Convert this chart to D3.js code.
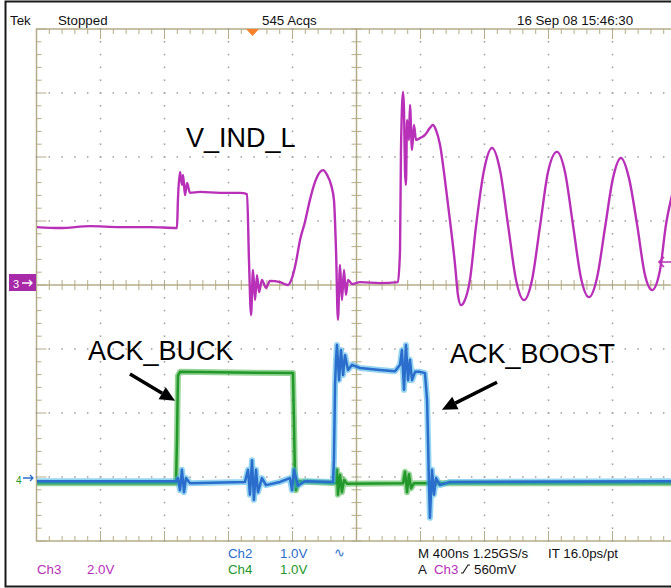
<!DOCTYPE html>
<html>
<head>
<meta charset="utf-8">
<script src="https://cdn.jsdelivr.net/npm/d3@7"></script>
<style>
  body { margin: 0; background: #fff; }
  svg { display: block; font-family: "Liberation Sans", Arial, sans-serif; }
</style>
</head>
<body>
<svg width="671" height="588"></svg>
<script>
// time in ns from left edge (400 ns/div), values in volts
var ch3 = [[3,1.81],[147,1.78],[334,1.84],[522,1.81],[709,1.81],[878,1.78],[884,2.66],[897,3.53],[909,3.13],[916,3.44],
  [928,2.81],[941,3.19],[959,2.88],[1022,2.91],[1147,2.88],[1272,2.88],[1316,2.84],[1328,0.78],[1341,-0.94],[1353,0.47],
  [1366,-0.47],[1378,0.31],[1391,-0.22],[1409,0.16],[1434,-0.09],[1459,0.13],[1522,0.09],[1572,0],[1597,0.22],[1622,0.72],
  [1647,1.41],[1678,1.97],[1709,2.66],[1741,3.22],[1772,3.53],[1791,3.59],[1816,3.44],[1841,3.13],[1859,2.66],[1872,1.09],
  [1884,-1.09],[1897,0.63],[1909,-0.47],[1922,0.47],[1934,-0.31],[1947,0.16],[1972,0.03],[2022,0.09],[2147,0.06],[2259,0.09],
  [2272,1.09],[2278,4.22],[2291,6.03],[2297,5.47],[2303,3.59],[2309,3.13],[2316,5.16],[2328,4.53],[2334,5.63],[2347,4.22],
  [2359,5.0],[2372,4.53],[2397,4.59],[2428,4.69],[2459,4.91],[2478,5.0],[2497,4.84],[2522,4.38],[2553,3.28],[2584,2.03],
  [2616,0.63],[2634,-0.31],[2653,-0.63],[2672,-0.53],[2709,0.16],[2747,1.84],[2797,3.59],[2847,4.28],[2897,3.59],[2947,1.88],
  [2997,0.16],[3047,-0.47],[3097,0.16],[3147,1.84],[3197,3.53],[3253,4.16],[3303,3.53],[3353,1.88],[3403,0.22],[3453,-0.38],
  [3503,0.22],[3553,1.78],[3603,3.34],[3653,3.97],[3703,3.34],[3753,1.91],[3803,0.31],[3847,-0.16],[3897,0.47],[3934,1.88],
  [3972,2.81]];

var ch4 = [[3,-0.05],[872,-0.05],[878,0.63],[884,1.63],[897,1.69],[1603,1.67],[1609,0.94],[1616,-0.03],[1622,-0.16],[1634,-0.02],
  [1872,-0.05],[1878,0.16],[1884,-0.23],[1897,0.08],[1909,-0.19],[1922,0],[1941,-0.06],
  [2291,-0.05],[2303,0.13],[2316,-0.19],[2328,0.09],[2341,-0.13],[2359,-0.05],[3966,-0.05]];

var ch2 = [[3,-0.02],[872,-0.02],[884,0.03],[897,-0.16],[909,0.16],[922,-0.19],[934,0.03],[959,-0.05],[1303,-0.03],[1322,0.16],
  [1334,-0.23],[1347,0.31],[1359,-0.31],[1372,0.16],[1384,-0.19],[1409,0.03],[1434,-0.08],[1522,-0.03],[1584,0.03],[1597,-0.16],
  [1609,0.16],[1634,-0.09],[1678,-0.02],[1853,-0.03],[1859,0.31],[1866,1.48],[1872,1.88],[1878,2.11],[1891,1.56],[1903,2.03],
  [1916,1.64],[1928,1.95],[1947,1.72],[1972,1.80],[2022,1.75],[2147,1.72],[2241,1.70],[2272,1.80],[2284,2.03],[2297,1.41],
  [2309,2.11],[2322,1.56],[2334,1.88],[2347,1.56],[2366,1.69],[2397,1.69],[2428,1.67],[2441,1.25],[2447,0.63],[2453,-0.08],
  [2459,-0.59],[2472,0.16],[2484,-0.23],[2497,0.03],[2522,-0.08],[2584,-0.03],[3966,-0.02]];

var topTexts = ['Tek', 'Stopped', '545 Acqs', '16 Sep 08 15:46:30'];
var notes = ['V_IND_L', 'ACK_BUCK', 'ACK_BOOST'];
var trigLevel = 0.72;

var svg = d3.select('svg'),
    w = +svg.attr('width'),
    h = +svg.attr('height');

var x = d3.scaleLinear().domain([0, 4000]).range([36.5, 676.5]),
    dv = d3.scaleLinear().domain([-4, 4]).range([541, 29]),
    y3 = d3.scaleLinear().domain([-8, 8]).range([541, 29]),     // 2 V/div
    y24 = d3.scaleLinear().domain([0, 1]).range([480, 416]);   // 1 V/div

var gc = '#b4ac88', mag = '#b82fb8', blu = '#2a6dcc', grn = '#23982a';

svg.append('rect').attr('width', w).attr('height', h).attr('fill', '#fff');
svg.append('rect')
  .attr('x', 5.5).attr('y', 1.5).attr('width', 720).attr('height', 585)
  .attr('fill', 'none').attr('stroke', '#1a1a1a').attr('stroke-width', 2);

// graticule
var g = svg.append('g').attr('stroke', gc).attr('fill', 'none');
var minX = d3.range(0, 4001, 80), minY = d3.range(-4, 4.001, 0.2);

g.append('rect').attr('x', x(0)).attr('y', dv(4))
  .attr('width', x(4000) - x(0)).attr('height', dv(-4) - dv(4)).attr('stroke-width', 1.5);
g.append('line').attr('x1', x(2000)).attr('x2', x(2000)).attr('y1', dv(4)).attr('y2', dv(-4)).attr('stroke-width', 1.5);
g.append('line').attr('x1', x(0)).attr('x2', x(4000)).attr('y1', dv(0)).attr('y2', dv(0)).attr('stroke-width', 1.5);

function isMaj(v, step) { return Math.abs(v / step - Math.round(v / step)) < 1e-6; }

// border ticks
minX.forEach(function(t) {
  var len = isMaj(t, 400) ? 10 : 5;
  g.append('line').attr('x1', x(t)).attr('x2', x(t)).attr('y1', dv(4)).attr('y2', dv(4) + len);
  g.append('line').attr('x1', x(t)).attr('x2', x(t)).attr('y1', dv(-4)).attr('y2', dv(-4) - len);
  g.append('line').attr('x1', x(t)).attr('x2', x(t)).attr('y1', dv(0) - 5).attr('y2', dv(0) + 5);
});
minY.forEach(function(d) {
  var len = isMaj(d, 1) ? 10 : 5;
  g.append('line').attr('x1', x(0)).attr('x2', x(0) + len).attr('y1', dv(d)).attr('y2', dv(d));
  g.append('line').attr('x1', x(2000) - 5).attr('x2', x(2000) + 5).attr('y1', dv(d)).attr('y2', dv(d));
});

// dotted major lines
var dots = svg.append('g').attr('fill', '#9c9c9c');
d3.range(400, 4000, 400).filter(function(t) { return t !== 2000; }).forEach(function(t) {
  minY.forEach(function(d) {
    dots.append('rect').attr('x', x(t) - 0.75).attr('y', dv(d) - 0.75).attr('width', 1.5).attr('height', 1.5);
  });
});
[-3, -2, -1, 1, 2, 3].forEach(function(d) {
  minX.forEach(function(t) {
    dots.append('rect').attr('x', x(t) - 0.75).attr('y', dv(d) - 0.75).attr('width', 1.5).attr('height', 1.5);
  });
});

// traces
svg.append('clipPath').attr('id', 'scr').append('rect')
  .attr('x', x(0)).attr('y', dv(4)).attr('width', x(4000) - x(0)).attr('height', dv(-4) - dv(4));
var tr = svg.append('g').attr('clip-path', 'url(#scr)').attr('fill', 'none')
  .attr('stroke-linejoin', 'round');

function trace(data, ys, curve, band, bandW, core, coreW) {
  var line = d3.line().x(function(d) { return x(d[0]); }).y(function(d) { return ys(d[1]); })
    .curve(curve);
  if (band) tr.append('path').attr('d', line(data)).attr('stroke', band).attr('stroke-width', bandW).attr('opacity', 0.55);
  tr.append('path').attr('d', line(data)).attr('stroke', core).attr('stroke-width', coreW);
}
trace(ch4, y24, d3.curveLinear, '#3fae3f', 6, grn, 2.5);
trace(ch2, y24, d3.curveLinear, '#3cb0e4', 6, blu, 2.5);
trace(ch3, y3, d3.curveMonotoneX, null, 0, mag, 2.4);

// annotations
var big = svg.append('g').attr('font-size', 27).attr('fill', '#000');
big.append('text').attr('x', x(934)).attr('y', dv(2.156)).text(notes[0]);
big.append('text').attr('x', x(322)).attr('y', dv(-1.17)).text(notes[1]);
big.append('text').attr('x', x(2584)).attr('y', dv(-1.22)).text(notes[2]);

function arrow(t0, d0, t1, d1) {
  var x0 = x(t0), y0 = dv(d0), x1 = x(t1), y1 = dv(d1),
      a = Math.atan2(y1 - y0, x1 - x0), L = 15, Wd = 7,
      bx = x1 - L * Math.cos(a), by = y1 - L * Math.sin(a);
  svg.append('line').attr('x1', x0).attr('y1', y0).attr('x2', bx).attr('y2', by)
    .attr('stroke', '#000').attr('stroke-width', 3.5);
  svg.append('path').attr('fill', '#000')
    .attr('d', 'M' + x1 + ',' + y1 +
      'L' + (bx - Wd * Math.sin(a)) + ',' + (by + Wd * Math.cos(a)) +
      'L' + (bx + Wd * Math.sin(a)) + ',' + (by - Wd * Math.cos(a)) + 'Z');
}
arrow(584, -1.39, 866, -1.81);
arrow(2878, -1.52, 2534, -1.95);

// screen markers
svg.append('path').attr('fill', '#f5822a')
  .attr('d', 'M' + (x(1350) - 6.5) + ',' + dv(4) + 'h13l-6.5,7z');

svg.append('rect').attr('x', 9).attr('y', y3(0) - 11).attr('width', 27).attr('height', 17).attr('fill', '#a82aa8');
svg.append('text').attr('x', 13).attr('y', y3(0) + 3).attr('font-size', 11).attr('fill', '#fff').text('3');
svg.append('path').attr('stroke', '#fff').attr('stroke-width', 1.3).attr('fill', 'none')
  .attr('d', 'M22,' + (y3(0) - 2) + 'h10M29,' + (y3(0) - 5) + 'l3,3l-3,3');

svg.append('text').attr('x', 16).attr('y', y24(0) + 4).attr('font-size', 10).attr('fill', grn).text('4');
svg.append('path').attr('stroke', blu).attr('stroke-width', 1.3).attr('fill', 'none')
  .attr('d', 'M23,' + (y24(0) - 2) + 'h10M30,' + (y24(0) - 5) + 'l3,3l-3,3');

svg.append('path').attr('stroke', mag).attr('stroke-width', 1.6).attr('fill', 'none')
  .attr('d', 'M659,' + y3(trigLevel) + 'h13M664,' + (y3(trigLevel) - 5) + 'l-5,5l5,5');

// status text
var st = svg.append('g').attr('font-size', 13.3).attr('fill', '#111');
[10, 58, 262, 517].forEach(function(px, i) {
  st.append('text').attr('x', px).attr('y', 25).text(topTexts[i]);
});

var rows = [
  {x: 37, y: 574, t: 'Ch3', c: mag}, {x: 87, y: 574, t: '2.0V', c: mag},
  {x: 228, y: 558, t: 'Ch2', c: blu}, {x: 280, y: 558, t: '1.0V', c: blu},
  {x: 228, y: 574, t: 'Ch4', c: grn}, {x: 280, y: 574, t: '1.0V', c: grn},
  {x: 334, y: 557, t: '\u223F', c: blu},
  {x: 418, y: 558, t: 'M 400ns 1.25GS/s', c: '#111'}, {x: 548, y: 558, t: 'IT 16.0ps/pt', c: '#111'},
  {x: 418, y: 574, t: 'A', c: '#111'}, {x: 434, y: 574, t: 'Ch3', c: mag}, {x: 474, y: 574, t: '560mV', c: '#111'}
];
rows.forEach(function(r) {
  st.append('text').attr('x', r.x).attr('y', r.y).attr('fill', r.c).text(r.t);
});
st.append('path').attr('stroke', '#111').attr('stroke-width', 1.1).attr('fill', 'none')
  .attr('d', 'M461,573h2l5,-8h2');
</script>
</body>
</html>
